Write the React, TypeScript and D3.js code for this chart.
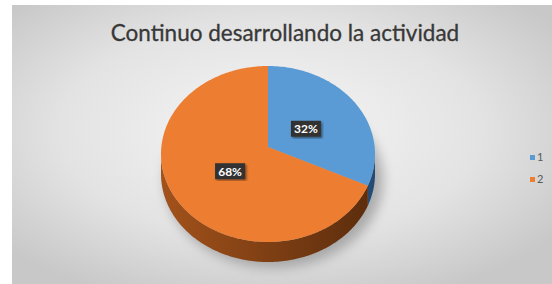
import React, { useEffect, useRef } from 'react';
import * as d3 from 'd3';

// data
const categories = ['1', '2'];
const values = [32, 68];
const labels = ['32%', '68%'];
const title = 'Continuo desarrollando la actividad';

const colors = ['#5b9bd5', '#ed7d31'];
const sideColors = [
  ['#3f74a8', '#244b73'],
  ['#a3521b', '#5a2c0c'],
];

const W = 552;
const H = 284;

const App: React.FC = () => {
  const ref = useRef<SVGSVGElement>(null);

  useEffect(() => {
    if (!ref.current) return;
    const svg = d3.select(ref.current);
    svg.selectAll('*').remove();

    const defs = svg.append('defs');
    const bg = defs
      .append('radialGradient')
      .attr('id', 'bg')
      .attr('cx', '48%')
      .attr('cy', '45%')
      .attr('r', '65%');
    bg.append('stop').attr('offset', '0%').attr('stop-color', '#f6f6f6');
    bg.append('stop').attr('offset', '60%').attr('stop-color', '#e3e3e3');
    bg.append('stop').attr('offset', '100%').attr('stop-color', '#c8c8c8');

    sideColors.forEach((c, i) => {
      const g = defs
        .append('linearGradient')
        .attr('id', 'side' + i)
        .attr('gradientUnits', 'userSpaceOnUse')
        .attr('x1', 160)
        .attr('x2', 376)
        .attr('y1', 0)
        .attr('y2', 0);
      g.append('stop').attr('offset', '0%').attr('stop-color', c[0]);
      g.append('stop').attr('offset', '100%').attr('stop-color', c[1]);
    });

    defs
      .append('filter')
      .attr('id', 'blur')
      .attr('x', '-20%')
      .attr('y', '-20%')
      .attr('width', '140%')
      .attr('height', '140%')
      .append('feGaussianBlur')
      .attr('stdDeviation', 6);

    const boxShadow = defs.append('filter').attr('id', 'boxsh');
    boxShadow
      .append('feDropShadow')
      .attr('dx', 1.5)
      .attr('dy', 1.5)
      .attr('stdDeviation', 1.2)
      .attr('flood-color', '#000')
      .attr('flood-opacity', 0.45);

    // background
    svg.append('rect').attr('width', W).attr('height', H).attr('fill', '#ffffff');
    svg
      .append('rect')
      .attr('x', 12)
      .attr('y', 5)
      .attr('width', W - 12)
      .attr('height', H - 5)
      .attr('fill', 'url(#bg)');

    svg
      .append('text')
      .attr('x', 285)
      .attr('y', 41)
      .attr('text-anchor', 'middle')
      .attr('font-family', 'Lato, "Noto Sans", sans-serif')
      .attr('font-size', 22.5)
      .attr('fill', '#383838')
      .attr('stroke', '#383838')
      .attr('stroke-width', 0.3)
      .text(title);

    const cx = 268;
    const cy = 154;
    const rx = 107;
    const ry = 88;
    const depth = 20;
    const px = cx;
    const py = 147; // apparent pie centre (perspective)
    const k = ry / rx;

    // rim point for a data angle: ray from apparent centre hits the ellipse
    const rimPhi = (theta: number) => {
      const ux = (px - cx) / rx;
      const uy = (py - cy) / ry;
      const vx = Math.sin(theta) / rx;
      const vy = (-Math.cos(theta) * k) / ry;
      const vv = vx * vx + vy * vy;
      const uv = ux * vx + uy * vy;
      const uu = ux * ux + uy * uy;
      const t = (-uv + Math.sqrt(uv * uv - vv * (uu - 1))) / vv;
      const ex = ux + t * vx;
      const ey = uy + t * vy;
      let phi = Math.atan2(ex, -ey);
      if (phi < 0) phi += 2 * Math.PI;
      if (theta >= 2 * Math.PI - 1e-9) phi = 2 * Math.PI;
      return phi;
    };
    const pt = (a: number, dy = 0): [number, number] => [
      cx + rx * Math.sin(a),
      cy - ry * Math.cos(a) + dy,
    ];

    const pie = d3.pie<number>().sort(null).value((d) => d)(values);
    const phis = pie.map((s) => [rimPhi(s.startAngle), rimPhi(s.endAngle)]);

    // shadow under the pie
    svg
      .append('ellipse')
      .attr('cx', cx + 6)
      .attr('cy', cy + depth + 6)
      .attr('rx', rx + 2)
      .attr('ry', ry)
      .attr('fill', '#7a7a7a')
      .attr('opacity', 0.55)
      .attr('filter', 'url(#blur)');

    // sides (front half only)
    phis.forEach(([s0, s1], i) => {
      const a0 = Math.max(s0, Math.PI / 2);
      const a1 = Math.min(s1, (3 * Math.PI) / 2);
      if (a1 <= a0) return;
      const p1 = pt(a1);
      const path = d3.path();
      const p0 = pt(a0);
      path.moveTo(p0[0], p0[1]);
      d3.range(a0, a1, 0.02).concat([a1]).forEach((a) => {
        const p = pt(a);
        path.lineTo(p[0], p[1]);
      });
      path.lineTo(p1[0], p1[1] + depth);
      d3.range(a1, a0, -0.02).concat([a0]).forEach((a) => {
        const p = pt(a, depth);
        path.lineTo(p[0], p[1]);
      });
      path.closePath();
      svg
        .append('path')
        .attr('d', path.toString())
        .attr('fill', `url(#side${i})`);
    });

    // top faces
    phis.forEach(([s0, s1], i) => {
      const path = d3.path();
      path.moveTo(px, py);
      d3.range(s0, s1, 0.02).concat([s1]).forEach((a) => {
        const p = pt(a);
        path.lineTo(p[0], p[1]);
      });
      path.closePath();
      svg
        .append('path')
        .attr('d', path.toString())
        .attr('fill', colors[i]);
    });

    // data labels
    pie.forEach((s, i) => {
      const a = (s.startAngle + s.endAngle) / 2;
      const lx = px + rx * 0.42 * Math.sin(a);
      const ly = py + 3 - ry * 0.45 * Math.cos(a);
      const g = svg.append('g').attr('transform', `translate(${lx},${ly})`);
      g.append('rect')
        .attr('x', -15)
        .attr('y', -8)
        .attr('width', 30)
        .attr('height', 16)
        .attr('fill', '#333333')
        .attr('filter', 'url(#boxsh)');
      g.append('text')
        .attr('text-anchor', 'middle')
        .attr('dy', '0.36em')
        .attr('font-family', 'Lato, "Noto Sans", sans-serif')
        .attr('font-weight', 'bold')
        .attr('font-size', 12)
        .attr('fill', '#ffffff')
        .text(labels[i]);
    });

    // legend
    const ly = d3.scalePoint<string>().domain(categories).range([157.5, 179.5]);
    const leg = svg
      .selectAll('g.leg')
      .data(categories)
      .enter()
      .append('g')
      .attr('class', 'leg')
      .attr('transform', (d) => `translate(530,${ly(d)})`);
    leg
      .append('rect')
      .attr('x', 0)
      .attr('y', -2.5)
      .attr('width', 5)
      .attr('height', 5)
      .attr('fill', (_, i) => colors[i]);
    leg
      .append('text')
      .attr('x', 7)
      .attr('dy', '0.36em')
      .attr('font-family', 'Lato, "Noto Sans", sans-serif')
      .attr('font-size', 11)
      .attr('fill', '#595959')
      .text((d) => d);
  }, []);

  return (
    <svg
      ref={ref}
      width={W}
      height={H}
      style={{ position: 'fixed', left: 0, top: 0 }}
    ></svg>
  );
};

export default App;
